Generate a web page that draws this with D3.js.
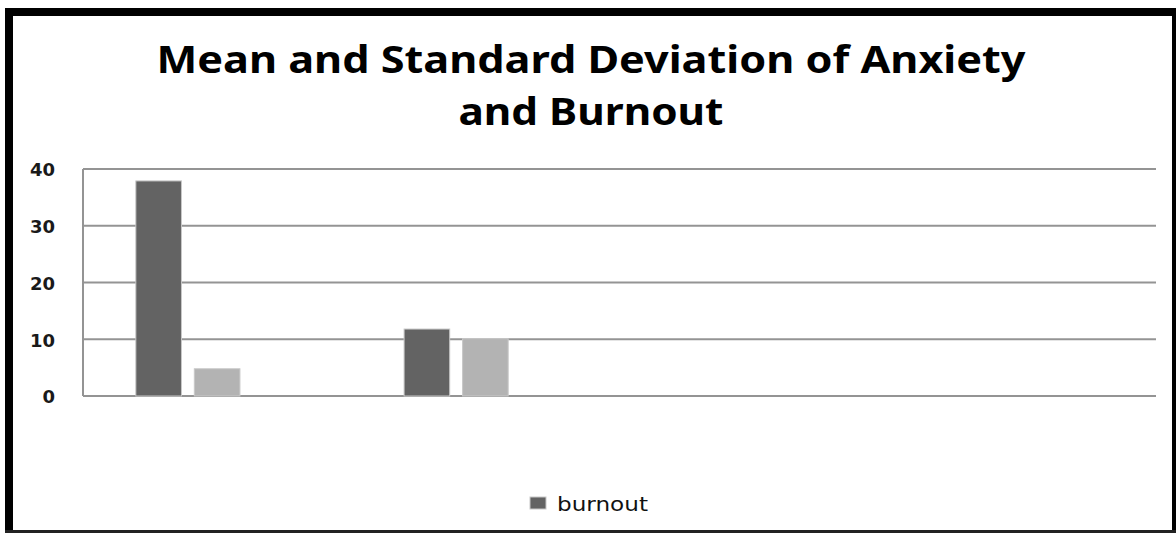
<!DOCTYPE html>
<html>
<head>
<meta charset="utf-8">
<script src="https://cdn.jsdelivr.net/npm/d3@7"></script>
<style>
  html, body { margin: 0; padding: 0; background: #fff; }
  svg { display: block; }
</style>
</head>
<body>
<svg id="chart" width="1176" height="533"></svg>
<script>
// ---- data ----
const categories = ["Anxiety", "Burnout", "Category 3", "Category 4"];
const seriesNames = ["burnout", "Std. Deviation", "Series 3"];
const meanValues = [37.9, 11.8, null, null];
const sdValues = [4.8, 10.1, null, null];
const thirdValues = [null, null, null, null];
const yTicks = [0, 10, 20, 30, 40];
const titleLines = ["Mean and Standard Deviation of Anxiety", "and Burnout"];
const legendItems = ["burnout"];

const seriesValues = [meanValues, sdValues, thirdValues];
const seriesColors = ["#636363", "#b3b3b3", "#e0e0e0"];

const W = 1176, H = 533;
const svg = d3.select("#chart");

svg.append("rect").attr("x", 0).attr("y", 0).attr("width", W).attr("height", H).attr("fill", "#fff");

const plot = { left: 83, right: 1156, top: 169, bottom: 396 };

const x0 = d3.scaleBand().domain(categories).range([plot.left, plot.right]).padding(0);
const bw = x0.bandwidth();
const x1 = d3.scaleBand().domain(seriesNames)
  .range([bw * 0.173, bw * 0.827]).paddingInner(0.22).paddingOuter(0.11);
const y = d3.scaleLinear().domain([0, 40]).range([plot.bottom, plot.top]);

// gridlines
svg.append("g").selectAll("line").data(yTicks).join("line")
  .attr("x1", plot.left).attr("x2", plot.right)
  .attr("y1", d => y(d)).attr("y2", d => y(d))
  .attr("stroke", "#949494").attr("stroke-width", 2);

// y axis line
svg.append("line").attr("x1", plot.left).attr("x2", plot.left)
  .attr("y1", plot.top).attr("y2", plot.bottom)
  .attr("stroke", "#949494").attr("stroke-width", 2);

// y axis labels via d3 axis
const yAxis = d3.axisLeft(y).tickValues(yTicks).tickSize(0).tickPadding(0).tickFormat(d3.format("d"));
const gy = svg.append("g").attr("transform", "translate(55,1)").call(yAxis);
gy.select(".domain").remove();
gy.selectAll("text").attr("font-family", "'DejaVu Sans', Verdana, sans-serif")
  .attr("font-size", 18).attr("font-weight", "bold").attr("fill", "#1a1a1a");

// bars
const rows = categories.map((c, i) => ({ cat: c, vals: seriesNames.map((s, j) => ({ s, j, v: seriesValues[j][i] })) }));
const groups = svg.append("g").selectAll("g").data(rows).join("g")
  .attr("transform", d => `translate(${x0(d.cat)},0)`);
groups.selectAll("rect").data(d => d.vals.filter(v => v.v != null)).join("rect")
  .attr("x", d => x1(d.s)).attr("width", x1.bandwidth())
  .attr("y", d => y(d.v)).attr("height", d => y(0) - y(d.v))
  .attr("fill", d => seriesColors[d.j])
  .attr("stroke", "#c8c8c8").attr("stroke-width", 1);

// title
const title = svg.append("g");
title.selectAll("text").data(titleLines).join("text")
  .attr("x", 591).attr("y", (d, i) => i === 0 ? 73 : 125)
  .attr("text-anchor", "middle")
  .attr("font-family", "'Noto Sans', 'Open Sans', sans-serif")
  .attr("font-weight", "bold").attr("font-size", 37).attr("fill", "#000")
  .attr("textLength", (d, i) => i === 0 ? 869 : 265)
  .attr("lengthAdjust", "spacingAndGlyphs")
  .text(d => d);

// legend
const lg = svg.append("g").attr("transform", "translate(530,497)");
lg.selectAll("rect").data(legendItems).join("rect")
  .attr("x", 0).attr("y", 0).attr("width", 16).attr("height", 12)
  .attr("fill", seriesColors[0]).attr("stroke", "#c8c8c8").attr("stroke-width", 1);
lg.selectAll("text").data(legendItems).join("text")
  .attr("x", 27).attr("y", 14)
  .attr("font-family", "'DejaVu Sans', Verdana, sans-serif")
  .attr("font-size", 20).attr("fill", "#111")
  .attr("textLength", 91).attr("lengthAdjust", "spacingAndGlyphs")
  .text(d => d);

// black frame edges
svg.append("rect").attr("x", 5).attr("y", 8).attr("width", 8).attr("height", H - 8).attr("fill", "#000");
svg.append("rect").attr("x", 5).attr("y", 8).attr("width", W - 5).attr("height", 8).attr("fill", "#000");
svg.append("rect").attr("x", 1172).attr("y", 8).attr("width", 4).attr("height", H - 8).attr("fill", "#000");
svg.append("rect").attr("x", 5).attr("y", 530).attr("width", W - 5).attr("height", 3).attr("fill", "#222");
</script>
</body>
</html>
